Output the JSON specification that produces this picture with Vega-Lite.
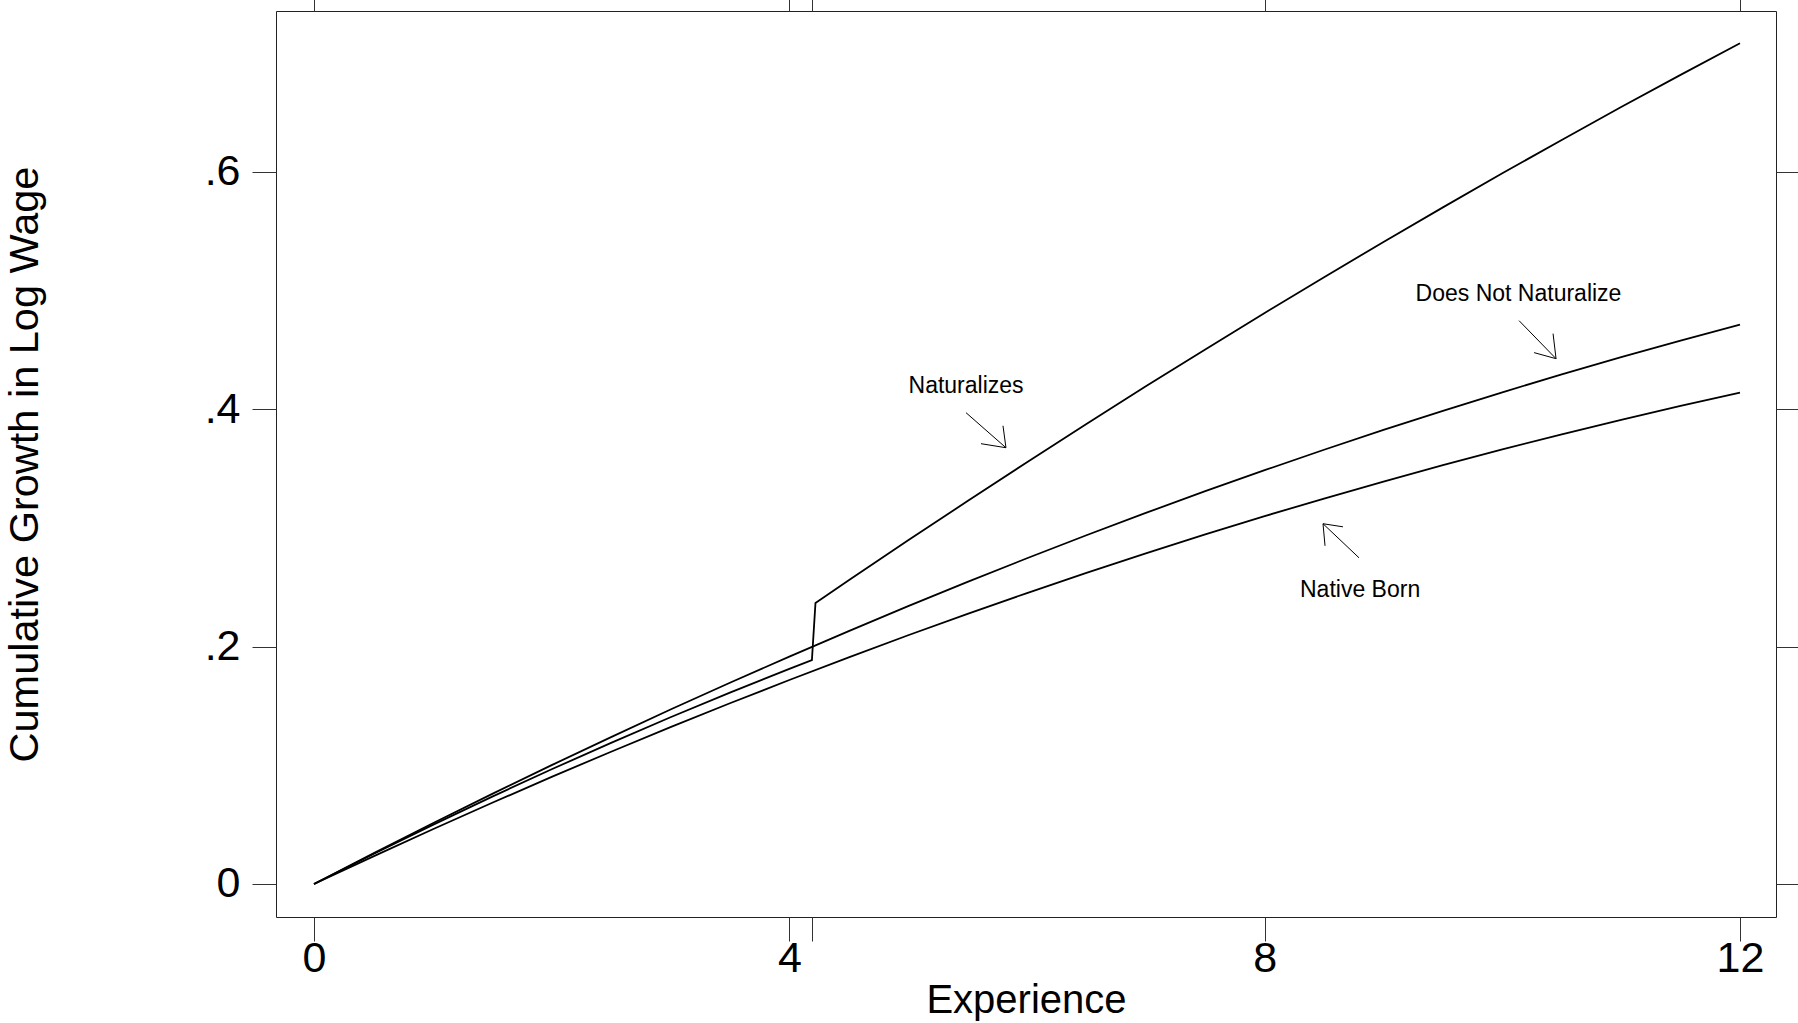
{
  "$schema": "https://vega.github.io/schema/vega-lite/v6.json",
  "width": 1500,
  "height": 906,
  "autosize": {"type": "none"},
  "padding": {"left": 276, "top": 11, "right": 22, "bottom": 106},
  "background": "white",
  "config": {
    "font": "Liberation Sans",
    "view": {"stroke": "#222", "strokeWidth": 1}
  },
  "datasets": {
    "curves": [
      {"series": "Native Born", "x": 0, "y": 0},
      {"series": "Native Born", "x": 0.5, "y": 0.0233},
      {"series": "Native Born", "x": 1, "y": 0.0461},
      {"series": "Native Born", "x": 1.5, "y": 0.0684},
      {"series": "Native Born", "x": 2, "y": 0.0902},
      {"series": "Native Born", "x": 2.5, "y": 0.1114},
      {"series": "Native Born", "x": 3, "y": 0.1321},
      {"series": "Native Born", "x": 3.5, "y": 0.1522},
      {"series": "Native Born", "x": 4, "y": 0.1718},
      {"series": "Native Born", "x": 4.5, "y": 0.1909},
      {"series": "Native Born", "x": 5, "y": 0.2095},
      {"series": "Native Born", "x": 5.5, "y": 0.2275},
      {"series": "Native Born", "x": 6, "y": 0.245},
      {"series": "Native Born", "x": 6.5, "y": 0.262},
      {"series": "Native Born", "x": 7, "y": 0.2785},
      {"series": "Native Born", "x": 7.5, "y": 0.2944},
      {"series": "Native Born", "x": 8, "y": 0.3098},
      {"series": "Native Born", "x": 8.5, "y": 0.3246},
      {"series": "Native Born", "x": 9, "y": 0.3389},
      {"series": "Native Born", "x": 9.5, "y": 0.3527},
      {"series": "Native Born", "x": 10, "y": 0.366},
      {"series": "Native Born", "x": 10.5, "y": 0.3787},
      {"series": "Native Born", "x": 11, "y": 0.3909},
      {"series": "Native Born", "x": 11.5, "y": 0.4026},
      {"series": "Native Born", "x": 12, "y": 0.4138},
      {"series": "Does Not Naturalize", "x": 0, "y": 0},
      {"series": "Does Not Naturalize", "x": 0.5, "y": 0.0258},
      {"series": "Does Not Naturalize", "x": 1, "y": 0.0511},
      {"series": "Does Not Naturalize", "x": 1.5, "y": 0.0759},
      {"series": "Does Not Naturalize", "x": 2, "y": 0.1001},
      {"series": "Does Not Naturalize", "x": 2.5, "y": 0.1237},
      {"series": "Does Not Naturalize", "x": 3, "y": 0.1469},
      {"series": "Does Not Naturalize", "x": 3.5, "y": 0.1695},
      {"series": "Does Not Naturalize", "x": 4, "y": 0.1915},
      {"series": "Does Not Naturalize", "x": 4.5, "y": 0.213},
      {"series": "Does Not Naturalize", "x": 5, "y": 0.234},
      {"series": "Does Not Naturalize", "x": 5.5, "y": 0.2544},
      {"series": "Does Not Naturalize", "x": 6, "y": 0.2743},
      {"series": "Does Not Naturalize", "x": 6.5, "y": 0.2937},
      {"series": "Does Not Naturalize", "x": 7, "y": 0.3125},
      {"series": "Does Not Naturalize", "x": 7.5, "y": 0.3308},
      {"series": "Does Not Naturalize", "x": 8, "y": 0.3485},
      {"series": "Does Not Naturalize", "x": 8.5, "y": 0.3657},
      {"series": "Does Not Naturalize", "x": 9, "y": 0.3824},
      {"series": "Does Not Naturalize", "x": 9.5, "y": 0.3985},
      {"series": "Does Not Naturalize", "x": 10, "y": 0.4141},
      {"series": "Does Not Naturalize", "x": 10.5, "y": 0.4291},
      {"series": "Does Not Naturalize", "x": 11, "y": 0.4437},
      {"series": "Does Not Naturalize", "x": 11.5, "y": 0.4576},
      {"series": "Does Not Naturalize", "x": 12, "y": 0.471},
      {"series": "Naturalizes", "x": 0, "y": 0},
      {"series": "Naturalizes", "x": 0.5, "y": 0.0253},
      {"series": "Naturalizes", "x": 1, "y": 0.0498},
      {"series": "Naturalizes", "x": 1.5, "y": 0.0736},
      {"series": "Naturalizes", "x": 2, "y": 0.0966},
      {"series": "Naturalizes", "x": 2.5, "y": 0.1189},
      {"series": "Naturalizes", "x": 3, "y": 0.1404},
      {"series": "Naturalizes", "x": 3.5, "y": 0.1612},
      {"series": "Naturalizes", "x": 4, "y": 0.1812},
      {"series": "Naturalizes", "x": 4.19, "y": 0.1886},
      {"series": "Naturalizes", "x": 4.22, "y": 0.2366},
      {"series": "Naturalizes", "x": 4.5, "y": 0.2557},
      {"series": "Naturalizes", "x": 5, "y": 0.2894},
      {"series": "Naturalizes", "x": 5.5, "y": 0.3225},
      {"series": "Naturalizes", "x": 6, "y": 0.3552},
      {"series": "Naturalizes", "x": 6.5, "y": 0.3874},
      {"series": "Naturalizes", "x": 7, "y": 0.4191},
      {"series": "Naturalizes", "x": 7.5, "y": 0.4502},
      {"series": "Naturalizes", "x": 8, "y": 0.4809},
      {"series": "Naturalizes", "x": 8.5, "y": 0.511},
      {"series": "Naturalizes", "x": 9, "y": 0.5407},
      {"series": "Naturalizes", "x": 9.5, "y": 0.5698},
      {"series": "Naturalizes", "x": 10, "y": 0.5985},
      {"series": "Naturalizes", "x": 10.5, "y": 0.6266},
      {"series": "Naturalizes", "x": 11, "y": 0.6543},
      {"series": "Naturalizes", "x": 11.5, "y": 0.6814},
      {"series": "Naturalizes", "x": 12, "y": 0.708}
    ],
    "labels": [
      {"label": "Naturalizes", "x": 5.487, "y": 0.4138},
      {"label": "Does Not Naturalize", "x": 10.136, "y": 0.4907},
      {"label": "Native Born", "x": 8.803, "y": 0.2421}
    ],
    "arrows": [
      {"x": 5.487, "y": 0.3969, "x2": 5.823, "y2": 0.3674},
      {"x": 5.613, "y": 0.3708, "x2": 5.823, "y2": 0.3674},
      {"x": 5.798, "y": 0.3859, "x2": 5.823, "y2": 0.3674},
      {"x": 10.141, "y": 0.4744, "x2": 10.452, "y2": 0.4424},
      {"x": 10.267, "y": 0.4475, "x2": 10.452, "y2": 0.4424},
      {"x": 10.427, "y": 0.4635, "x2": 10.452, "y2": 0.4424},
      {"x": 8.794, "y": 0.2747, "x2": 8.491, "y2": 0.3034},
      {"x": 8.659, "y": 0.3008, "x2": 8.491, "y2": 0.3034},
      {"x": 8.508, "y": 0.2848, "x2": 8.491, "y2": 0.3034}
    ]
  },
  "layer": [
    {
      "data": {"name": "curves"},
      "mark": {"type": "line", "color": "black", "strokeWidth": 1.8},
      "encoding": {
        "x": {
          "field": "x", "type": "quantitative",
          "scale": {"domain": [-0.3198, 12.303], "nice": false, "zero": false},
          "axis": {
            "orient": "bottom", "values": [0, 4, 4.19, 8, 12],
            "labelExpr": "datum.value == 4.19 ? '' : format(datum.value, 'd')",
            "title": "Experience", "domain": false, "grid": false,
            "tickSize": 24, "tickColor": "#333", "tickWidth": 1,
            "labelFontSize": 43, "labelPadding": -4, "labelColor": "black",
            "labelFlush": false, "labelOverlap": false,
            "titleFontSize": 40, "titleFontWeight": "normal", "titleColor": "black",
            "titleBaseline": "alphabetic", "titleAlign": "center", "titleX": 750, "titleY": 95
          }
        },
        "y": {
          "field": "y", "type": "quantitative",
          "scale": {"domain": [-0.0278, 0.7352], "nice": false, "zero": false},
          "axis": {
            "orient": "left", "values": [0, 0.2, 0.4, 0.6],
            "labelExpr": "datum.value == 0 ? '0' : replace(format(datum.value, '.1f'), '0.', '.')",
            "title": "Cumulative Growth in Log Wage", "domain": false, "grid": false,
            "tickSize": 24, "tickColor": "#333", "tickWidth": 1,
            "labelFontSize": 43, "labelPadding": 12, "labelColor": "black",
            "labelFlush": false, "labelOverlap": false,
            "titleFontSize": 41.5, "titleFontWeight": "normal", "titleColor": "black",
            "titleAngle": 270, "titleBaseline": "alphabetic", "titleAlign": "center",
            "titleX": -239, "titleY": 453
          }
        },
        "detail": {"field": "series"}
      }
    },
    {
      "data": {"name": "arrows"},
      "mark": {"type": "rule", "color": "black", "strokeWidth": 1},
      "encoding": {
        "x": {
          "field": "x", "type": "quantitative",
          "scale": {"domain": [-0.3198, 12.303], "nice": false, "zero": false},
          "axis": {
            "orient": "top", "values": [0, 4, 4.19, 8, 12], "labels": false,
            "title": null, "domain": false, "grid": false,
            "tickSize": 24, "tickColor": "#333", "tickWidth": 1
          }
        },
        "y": {
          "field": "y", "type": "quantitative",
          "scale": {"domain": [-0.0278, 0.7352], "nice": false, "zero": false},
          "axis": {
            "orient": "right", "values": [0, 0.2, 0.4, 0.6], "labels": false,
            "title": null, "domain": false, "grid": false,
            "tickSize": 24, "tickColor": "#333", "tickWidth": 1
          }
        },
        "x2": {"field": "x2"},
        "y2": {"field": "y2"}
      }
    },
    {
      "data": {"name": "labels"},
      "mark": {"type": "text", "color": "black", "fontSize": 23, "align": "center", "baseline": "alphabetic", "font": "Liberation Sans"},
      "encoding": {
        "x": {
          "field": "x", "type": "quantitative",
          "scale": {"domain": [-0.3198, 12.303], "nice": false, "zero": false},
          "axis": null
        },
        "y": {
          "field": "y", "type": "quantitative",
          "scale": {"domain": [-0.0278, 0.7352], "nice": false, "zero": false},
          "axis": null
        },
        "text": {"field": "label"}
      }
    }
  ],
  "resolve": {"axis": {"x": "independent", "y": "independent"}}
}
